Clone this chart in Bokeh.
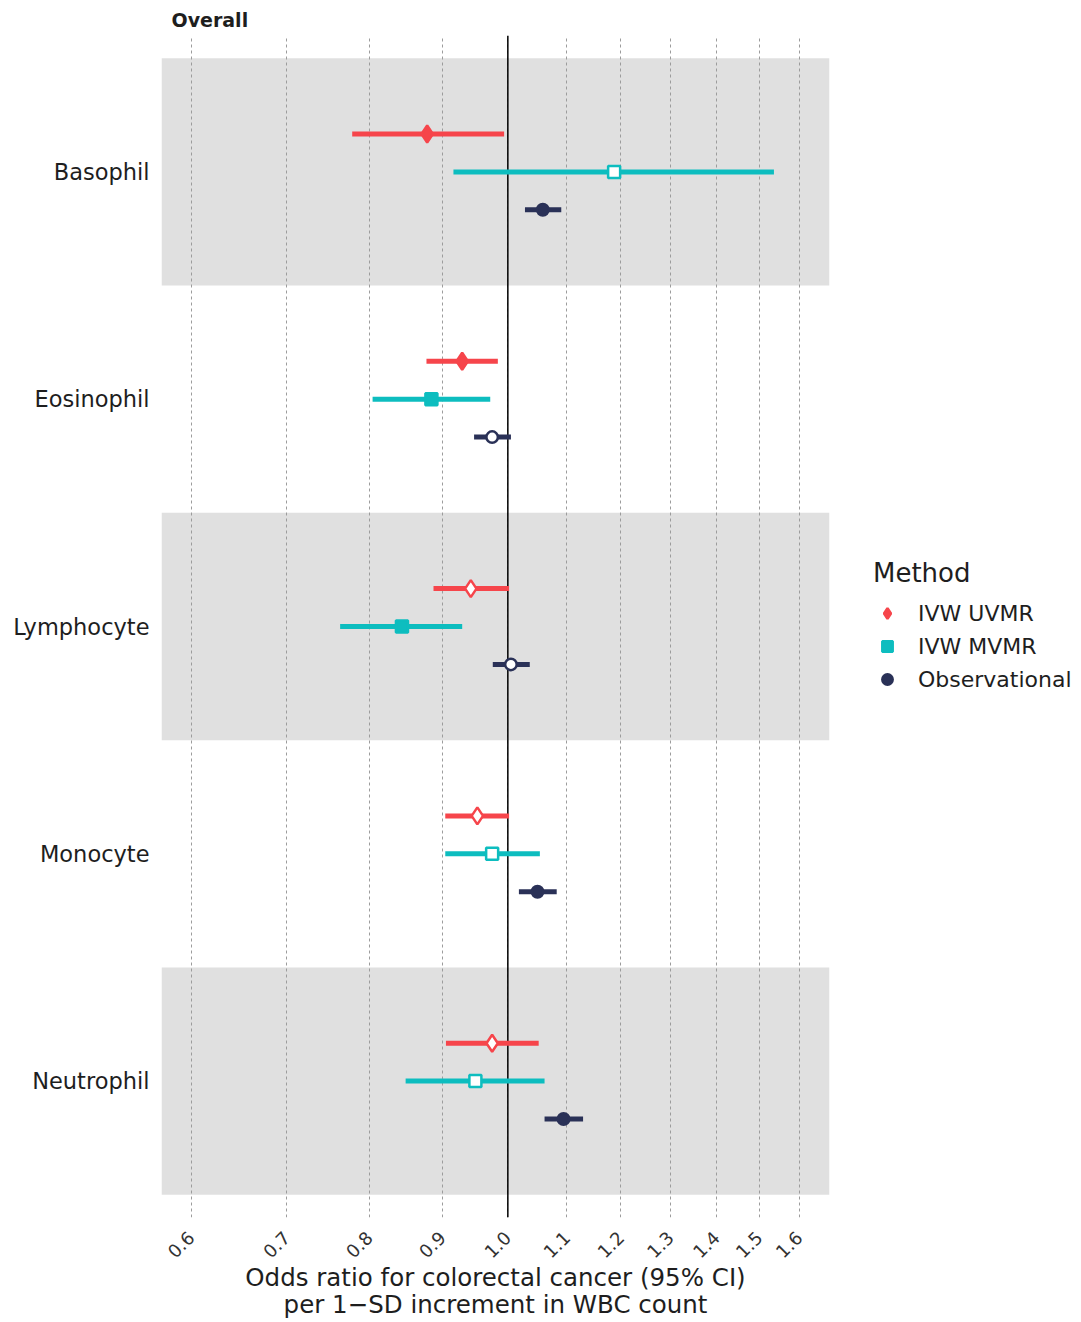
from math import pi
from bokeh.plotting import figure
from bokeh.models import (ColumnDataSource, FixedTicker, CustomJSTickFormatter, Span,
                          BoxAnnotation, Legend, LegendItem, Range1d)
from bokeh.embed import file_html
from bokeh.resources import INLINE

# ---------------- data ----------------
cell_types = ["Basophil", "Eosinophil", "Lymphocyte", "Monocyte", "Neutrophil"]
methods = ["IVW UVMR", "IVW MVMR", "Observational"]
method_colors = ["#F6454B", "#0DBDBF", "#2A3157"]
method_markers = ["diamond", "square", "circle"]

uvmr_or = [0.878, 0.929, 0.942, 0.952, 0.975]
uvmr_lo = [0.778, 0.877, 0.887, 0.904, 0.905]
uvmr_hi = [0.994, 0.984, 1.002, 1.002, 1.051]

mvmr_or = [1.187, 0.884, 0.843, 0.975, 0.949]
mvmr_lo = [0.916, 0.804, 0.763, 0.904, 0.848]
mvmr_hi = [1.536, 0.972, 0.929, 1.053, 1.061]

obs_or = [1.058, 0.975, 1.005, 1.049, 1.094]
obs_lo = [1.028, 0.947, 0.976, 1.018, 1.061]
obs_hi = [1.090, 1.005, 1.036, 1.082, 1.129]

tick_values = [0.6, 0.7, 0.8, 0.9, 1.0, 1.1, 1.2, 1.3, 1.4, 1.5, 1.6]
shaded_cells = ["Basophil", "Lymphocyte", "Neutrophil"]

x_title = "Odds ratio for colorectal cancer (95% CI)\nper 1\u2212SD increment in WBC count"

# ---------------- layout ----------------
FONT = "DejaVu Sans"
TXT = "#1e1e1e"
n = len(cell_types)
cat_pos = {c: n - i for i, c in enumerate(cell_types)}
dodge = [1 / 6, 0.0, -1 / 6]

p = figure(frame_width=668, frame_height=1182, x_axis_type="log",
           x_range=Range1d(0.572, 1.68), y_range=Range1d(0.4, n + 0.6),
           output_backend="svg", toolbar_location=None,
           min_border_left=161, min_border_right=244,
           min_border_top=35, min_border_bottom=100)
p.outline_line_color = None
p.background_fill_color = "white"
p.border_fill_color = "white"

p.title.text = "Overall"
p.title.text_font = FONT
p.title.text_font_style = "bold"
p.title.text_font_size = "19px"
p.title.text_color = TXT
p.title.align = "left"
p.title.offset = 10
p.title.standoff = 9

# bands
for c in shaded_cells:
    y = cat_pos[c]
    p.add_layout(BoxAnnotation(bottom=y - 0.5, top=y + 0.5, fill_color="#E0E0E0",
                               fill_alpha=1.0, line_color=None, level="image"))

# grid
p.xgrid.ticker = FixedTicker(ticks=tick_values)
p.xgrid.grid_line_color = "#9C9C9C"
p.xgrid.grid_line_dash = "3 3"
p.xgrid.grid_line_width = 1
p.ygrid.visible = False

p.add_layout(Span(location=1.0, dimension="height", line_color="black",
                  line_width=1.5, level="underlay"))

# x axis
xa = p.xaxis[0]
xa.ticker = FixedTicker(ticks=tick_values)
xa.formatter = CustomJSTickFormatter(code="return tick.toFixed(1);")
xa.major_label_orientation = pi / 4
xa.axis_line_color = None
xa.major_tick_line_color = None
xa.minor_tick_line_color = None
xa.major_tick_out = 0
xa.major_tick_in = 0
xa.major_label_text_font = FONT
xa.major_label_text_font_size = "18px"
xa.major_label_text_color = "#333333"
xa.major_label_standoff = 17
xa.axis_label = x_title
xa.axis_label_text_font = FONT
xa.axis_label_text_font_style = "normal"
xa.axis_label_text_font_size = "24.5px"
xa.axis_label_text_line_height = 0.95
xa.axis_label_text_color = TXT
xa.axis_label_standoff = -4

# y axis
ya = p.yaxis[0]
ya.ticker = FixedTicker(ticks=[cat_pos[c] for c in cell_types])
ya.major_label_overrides = {cat_pos[c]: c for c in cell_types}
ya.axis_line_color = None
ya.major_tick_line_color = None
ya.minor_tick_line_color = None
ya.major_tick_out = 0
ya.major_tick_in = 0
ya.major_label_text_font = FONT
ya.major_label_text_font_size = "22.5px"
ya.major_label_text_color = TXT
ya.major_label_standoff = 12

# series
series = [(uvmr_or, uvmr_lo, uvmr_hi), (mvmr_or, mvmr_lo, mvmr_hi), (obs_or, obs_lo, obs_hi)]
marker_size = {"diamond": 17, "square": 12, "circle": 11.5}
legend_items = []
for k, (m, col, mk, (est, lo, hi)) in enumerate(zip(methods, method_colors, method_markers, series)):
    ys = [cat_pos[c] + dodge[k] for c in cell_types]
    sig = [(h < 1.0) or (l > 1.0) for l, h in zip(lo, hi)]
    fills = [col if s else "white" for s in sig]
    src = ColumnDataSource(dict(est=est, lo=lo, hi=hi, y=ys, fill=fills))
    p.segment(x0="lo", x1="hi", y0="y", y1="y", source=src, line_color=col, line_width=5)
    r = p.scatter(x="est", y="y", source=src, marker=mk, size=marker_size[mk],
                  fill_color="fill", line_color=col, line_width=2.5)
    first_filled = sig.index(True) if True in sig else 0
    legend_items.append(LegendItem(label=m, renderers=[r], index=first_filled))

legend = Legend(items=legend_items, title="Method", location=(44, 525))
legend.title_text_font = FONT
legend.title_text_font_size = "26px"
legend.title_text_font_style = "normal"
legend.title_text_color = TXT
legend.title_standoff = 12
legend.label_text_font = FONT
legend.label_text_font_size = "22px"
legend.label_text_color = TXT
legend.glyph_width = 28
legend.glyph_height = 26
legend.label_height = 26
legend.label_standoff = 17
legend.spacing = 7
legend.padding = 0
legend.margin = 0
legend.border_line_color = None
legend.background_fill_alpha = 0
p.add_layout(legend, "right")

open("out.html", "w").write(file_html(p, INLINE))
